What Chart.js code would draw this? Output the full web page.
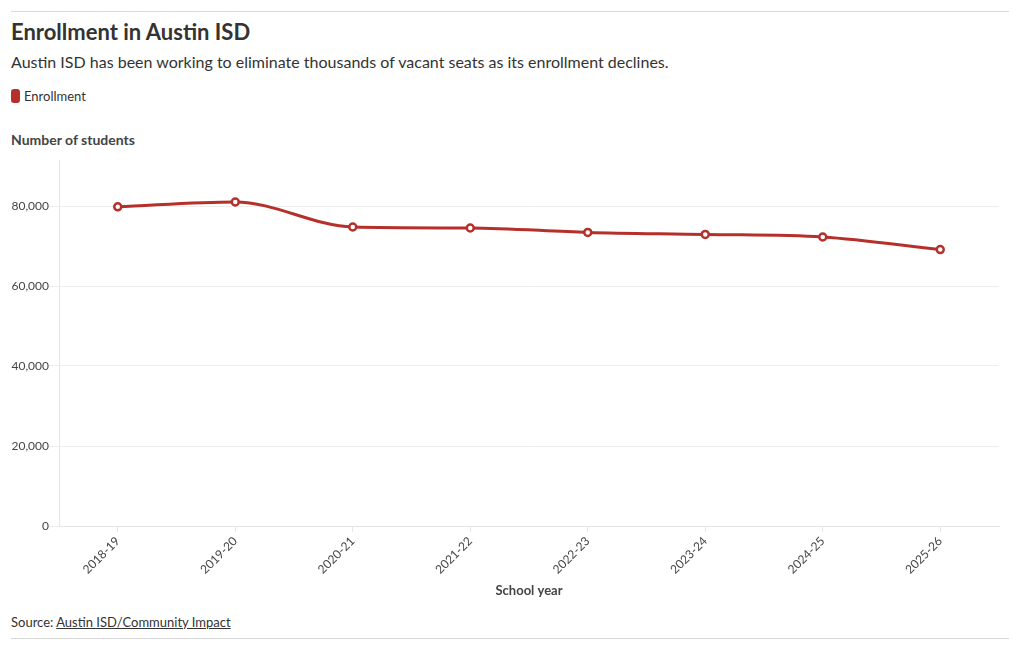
<!DOCTYPE html>
<html>
<head>
<meta charset="utf-8">
<script src="https://cdn.jsdelivr.net/npm/chart.js@4/dist/chart.umd.min.js"></script>
<style>
  html, body { margin: 0; padding: 0; background: #fff; width: 1020px; height: 650px; overflow: hidden; }
  body { font-family: Lato, "Open Sans", sans-serif; color: #333; position: relative; }
  .rule { position: absolute; left: 11px; width: 998px; height: 1px; background: #d9d9d9; }
  #title { position: absolute; left: 11px; top: 18px; font-size: 22px; font-weight: 700; color: #333; white-space: nowrap; }
  #subtitle { position: absolute; left: 11px; top: 52px; font-size: 16px; color: #333; white-space: nowrap; }
  #legend { position: absolute; left: 11px; top: 88px; font-size: 13px; color: #333; display: flex; align-items: center; }
  #legend .sw { width: 9px; height: 14px; border-radius: 3px; background: #b5302a; margin-right: 4px; }
  #ytitle { position: absolute; left: 11px; top: 131px; font-size: 14px; font-weight: 700; color: #444; }
  #source { position: absolute; left: 11px; top: 614px; font-size: 13px; color: #333; }
  #source a { color: #333; text-decoration: underline; }
  #wrap { position: absolute; left: 11px; top: 150px; width: 998px; height: 455px; }
</style>
</head>
<body>
<div class="rule" style="top:11px"></div>
<div id="title">Enrollment in Austin ISD</div>
<div id="subtitle">Austin ISD has been working to eliminate thousands of vacant seats as its enrollment declines.</div>
<div id="legend"><span class="sw"></span>Enrollment</div>
<div id="ytitle">Number of students</div>
<div id="wrap"><canvas id="c"></canvas></div>
<div id="source">Source: <a>Austin ISD/Community Impact</a></div>
<div class="rule" style="top:638px"></div>
<script>
const schoolYears = ["2018-19", "2019-20", "2020-21", "2021-22", "2022-23", "2023-24", "2024-25", "2025-26"];
const enrollment = [79800, 81000, 74750, 74500, 73400, 72900, 72250, 69100];
const yTicks = [0, 20000, 40000, 60000, 80000];

const FONT = 'Lato, "Open Sans", sans-serif';
const RED = '#b5302a';

new Chart(document.getElementById('c'), {
  type: 'line',
  data: {
    labels: schoolYears,
    datasets: [{
      label: 'Enrollment',
      data: enrollment,
      borderColor: RED,
      backgroundColor: '#fff',
      borderWidth: 3,
      pointRadius: 3.5,
      pointBorderWidth: 2.5,
      pointBackgroundColor: '#fff',
      pointBorderColor: RED,
      cubicInterpolationMode: 'monotone',
      fill: false
    }]
  },
  options: {
    responsive: true,
    maintainAspectRatio: false,
    animation: false,
    layout: { padding: { top: 10, right: 10, bottom: 0, left: 0 } },
    plugins: { legend: { display: false }, tooltip: { enabled: false } },
    scales: {
      x: {
        offset: true,
        grid: { display: true, drawOnChartArea: false, drawTicks: true, tickLength: 6, color: '#e6e6e6' },
        border: { display: true, color: '#e6e6e6' },
        ticks: { minRotation: 45, maxRotation: 45, color: '#444', font: { family: FONT, size: 12 }, padding: 2 },
        title: { display: true, text: 'School year', color: '#444', font: { family: FONT, size: 13, weight: 'bold' }, padding: { top: 0, bottom: 6 } },
        afterFit: (s) => { s.height = 79; }
      },
      y: {
        min: 0,
        max: 91500,
        afterBuildTicks: (s) => { s.ticks = yTicks.map(v => ({ value: v })); },
        grid: { color: '#ededed', tickLength: 10, drawTicks: true },
        border: { display: true, color: '#e6e6e6' },
        ticks: {
          color: '#444', font: { family: FONT, size: 12 }, padding: 0,
          callback: (v) => v.toLocaleString('en-US')
        },
        afterFit: (s) => { s.width = 48; }
      }
    }
  }
});
</script>
</body>
</html>
